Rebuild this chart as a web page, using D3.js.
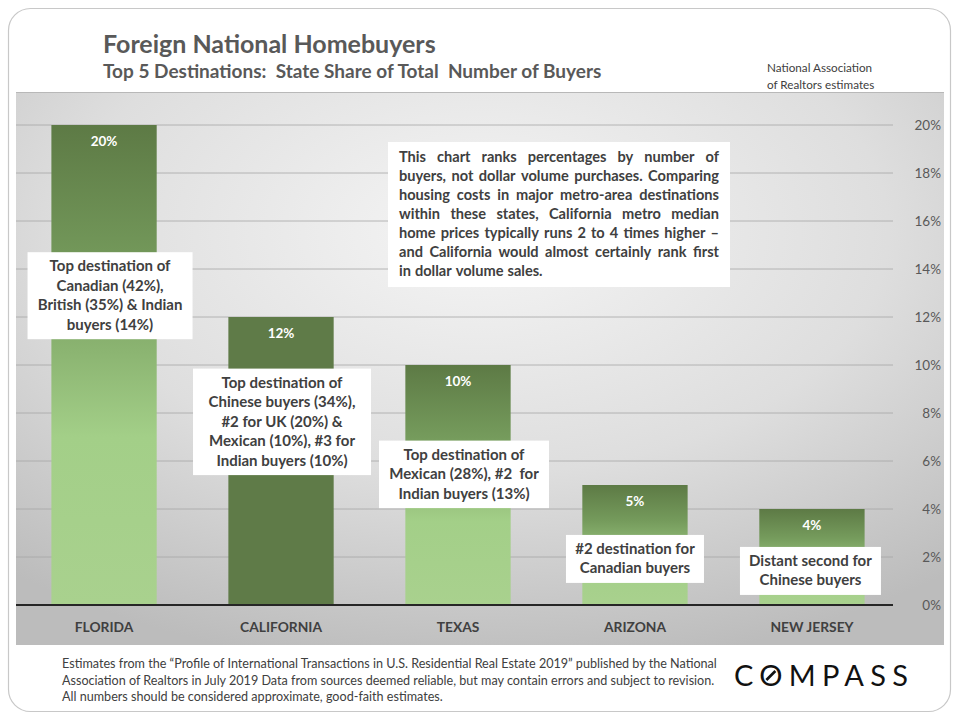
<!DOCTYPE html>
<html>
<head>
<meta charset="utf-8">
<script src="https://cdn.jsdelivr.net/npm/d3@7"></script>
<style>
  html, body { margin: 0; padding: 0; background: #ffffff; }
  svg { display: block; }
  text { font-family: Lato, "Open Sans", sans-serif; }
</style>
</head>
<body>
<svg id="chart" width="960" height="720"></svg>
<script>
// ---------------- DATA ----------------
const states = ["FLORIDA", "CALIFORNIA", "TEXAS", "ARIZONA", "NEW JERSEY"];
const shares = [20, 12, 10, 5, 4];
const valueLabels = ["20%", "12%", "10%", "5%", "4%"];
const yTicks = [0, 2, 4, 6, 8, 10, 12, 14, 16, 18, 20];
const annotations = [
  ["Top destination of", "Canadian (42%),", "British (35%) & Indian", "buyers (14%)"],
  ["Top destination of", "Chinese buyers (34%),", "#2 for UK (20%) &", "Mexican (10%), #3 for", "Indian buyers (10%)"],
  ["Top destination of", "Mexican (28%), #2  for", "Indian buyers (13%)"],
  ["#2 destination for", "Canadian buyers"],
  ["Distant second for", "Chinese buyers"]
];
const annotationTop = [14.7, 9.85, 6.85, 2.92, 2.42]; // value (in %) where the box top sits
const noteLines = [
  "This chart ranks percentages by number of",
  "buyers, not dollar volume purchases. Comparing",
  "housing costs in major metro-area destinations",
  "within these states, California metro median",
  "home prices typically runs 2 to 4 times higher \u2013",
  "and California would almost certainly rank first",
  "in dollar volume sales."
];
const title = "Foreign National Homebuyers";
const subtitle = "Top 5 Destinations:  State Share of Total  Number of Buyers";
const sourceNote = ["National Association", "of Realtors estimates"];
const footer = [
  "Estimates from the \u201cProfile of International Transactions in U.S. Residential Real Estate 2019\u201d published by the National",
  "Association of Realtors in July 2019 Data from sources deemed reliable, but may contain errors and subject to revision.",
  "All numbers should be considered approximate, good-faith estimates."
];

// ---------------- LAYOUT ----------------
const annoBoxW = [165, 178, 170, 138, 141];
const annoOffsets = [6, 1, 6, 0, -1.5]; // box centre shift from bar centre

// ---------------- DRAW ----------------
const svg = d3.select("#chart");
const defs = svg.append("defs");

const bg = defs.append("radialGradient").attr("id", "bgGrad")
  .attr("cx", "50%").attr("cy", "25%").attr("r", "80%").attr("fx", "50%").attr("fy", "25%");
bg.append("stop").attr("offset", "0%").attr("stop-color", "#f5f5f5");
bg.append("stop").attr("offset", "55%").attr("stop-color", "#dedede");
bg.append("stop").attr("offset", "100%").attr("stop-color", "#bcbcbc");

const barGrad = defs.append("linearGradient").attr("id", "barGrad")
  .attr("x1", 0).attr("y1", 0).attr("x2", 0).attr("y2", 1);
barGrad.append("stop").attr("offset", "0%").attr("stop-color", "#5d7a45");
barGrad.append("stop").attr("offset", "30%").attr("stop-color", "#759b5c");
barGrad.append("stop").attr("offset", "65%").attr("stop-color", "#a3cf88");
barGrad.append("stop").attr("offset", "100%").attr("stop-color", "#a9d18e");

// outer frame
svg.append("rect").attr("x", 8.5).attr("y", 8.5).attr("width", 942).attr("height", 703)
  .attr("rx", 22).attr("fill", "#ffffff").attr("stroke", "#c8c8c8").attr("stroke-width", 1.2);

// titles
svg.append("text").attr("x", 103).attr("y", 53).attr("font-size", 25).attr("font-weight", 700)
  .attr("fill", "#595959").text(title);
svg.append("text").attr("x", 103).attr("y", 78).attr("font-size", 19).attr("font-weight", 700)
  .attr("fill", "#595959").attr("xml:space", "preserve").style("white-space", "pre").text(subtitle);
svg.selectAll("text.src").data(sourceNote).join("text").attr("class", "src")
  .attr("x", 767).attr("y", (d, i) => 72 + i * 17).attr("font-size", 11.7).attr("fill", "#404040").text(d => d);

// panel
const panel = { x: 16, y: 92, w: 928, h: 553 };
svg.append("rect").attr("x", panel.x).attr("y", panel.y).attr("width", panel.w).attr("height", panel.h)
  .attr("fill", "url(#bgGrad)");
svg.append("line").attr("x1", panel.x).attr("x2", panel.x + panel.w).attr("y1", panel.y + 0.5).attr("y2", panel.y + 0.5)
  .attr("stroke", "#b8b8b8");

const x = d3.scaleBand().domain(states).range([16, 900]).paddingInner(0.405).paddingOuter(0.2);
const y = d3.scaleLinear().domain([0, 20]).range([605, 125]);

// gridlines
svg.append("g").selectAll("line").data(yTicks.filter(t => t > 0)).join("line")
  .attr("x1", 16).attr("x2", 893).attr("y1", d => y(d)).attr("y2", d => y(d))
  .attr("stroke", "#a6a6a6").attr("stroke-width", 0.8);

// right axis labels
const yAxis = d3.axisRight(y).tickValues(yTicks).tickFormat(d => d + "%").tickSize(0).tickPadding(0);
const ya = svg.append("g").attr("transform", "translate(941,0)").call(yAxis);
ya.select(".domain").remove();
ya.selectAll("text").attr("text-anchor", "end").attr("font-size", 13.5).attr("fill", "#595959")
  .attr("font-family", "Lato, sans-serif");

// bars
svg.append("g").selectAll("rect").data(states).join("rect")
  .attr("x", d => x(d)).attr("width", x.bandwidth())
  .attr("y", (d, i) => y(shares[i])).attr("height", (d, i) => y(0) - y(shares[i]))
  .attr("fill", (d, i) => i === 1 ? "#5f7b48" : "url(#barGrad)");

// value labels
svg.append("g").selectAll("text").data(states).join("text")
  .attr("x", d => x(d) + x.bandwidth() / 2).attr("y", (d, i) => y(shares[i]) + 21)
  .attr("text-anchor", "middle").attr("font-size", 13.5).attr("font-weight", 700).attr("fill", "#ffffff")
  .text((d, i) => valueLabels[i]);

// baseline
svg.append("line").attr("x1", 16).attr("x2", 893).attr("y1", y(0)).attr("y2", y(0))
  .attr("stroke", "#262626").attr("stroke-width", 2);

// x labels
const xAxis = d3.axisBottom(x).tickSize(0).tickPadding(0);
const xa = svg.append("g").attr("transform", `translate(0,${y(0) + 27})`).call(xAxis);
xa.select(".domain").remove();
xa.selectAll("text").attr("dy", 0).attr("font-size", 13.8).attr("font-weight", 700).attr("fill", "#404040")
  .attr("font-family", "Lato, sans-serif");

// annotation boxes
const lineH = 19.5;
annotations.forEach((lines, i) => {
  const cx = x(states[i]) + x.bandwidth() / 2 + annoOffsets[i];
  const top = y(annotationTop[i]);
  const w = annoBoxW[i], h = lines.length * lineH + 9;
  const g = svg.append("g");
  g.append("rect").attr("x", cx - w / 2).attr("y", top).attr("width", w).attr("height", h).attr("fill", "#ffffff");
  g.selectAll("text").data(lines).join("text")
    .attr("x", cx).attr("y", (d, j) => top + 19 + j * lineH)
    .attr("text-anchor", "middle").attr("font-size", 15).attr("font-weight", 700).attr("fill", "#404040")
    .attr("xml:space", "preserve").style("white-space", "pre").text(d => d);
});

// justified note box
const note = { x: 388, y: 142, w: 342, h: 145, pad: 11 };
svg.append("rect").attr("x", note.x).attr("y", note.y).attr("width", note.w).attr("height", note.h).attr("fill", "#ffffff");
const ng = svg.append("g").attr("font-size", 14.6).attr("font-weight", 700).attr("fill", "#404040");
const innerW = note.w - 2 * note.pad;
noteLines.forEach((line, i) => {
  const words = line.split(" ");
  const yy = note.y + 20 + i * 19;
  const tmp = ng.append("text").attr("font-family", "Lato, sans-serif");
  const widths = words.map(w => { tmp.text(w); return tmp.node().getComputedTextLength(); });
  tmp.remove();
  const total = d3.sum(widths);
  const last = i === noteLines.length - 1;
  const gap = last ? 4 : (innerW - total) / (words.length - 1);
  let cx = note.x + note.pad;
  words.forEach((w, k) => {
    ng.append("text").attr("x", cx).attr("y", yy).text(w);
    cx += widths[k] + gap;
  });
});

// footer
svg.selectAll("text.foot").data(footer).join("text").attr("class", "foot")
  .attr("x", 62).attr("y", (d, i) => 668 + i * 16.5).attr("font-size", 12.6).attr("fill", "#404040")
  .text(d => d);

// logo
const logo = svg.append("text").attr("x", 734).attr("y", 686).attr("font-size", 29)
  .attr("font-family", "Lato, sans-serif").attr("font-weight", 400).attr("fill", "#111111")
  .attr("textLength", 174).attr("lengthAdjust", "spacing").text("COMPASS");
const ext = logo.node().getExtentOfChar(1);
const ocx = ext.x + ext.width / 2, ocy = 686 - 10.5;
svg.append("line").attr("x1", ocx - 4.5).attr("y1", ocy + 4.5).attr("x2", ocx + 4.5).attr("y2", ocy - 4.5)
  .attr("stroke", "#111111").attr("stroke-width", 2.6);
</script>
</body>
</html>
